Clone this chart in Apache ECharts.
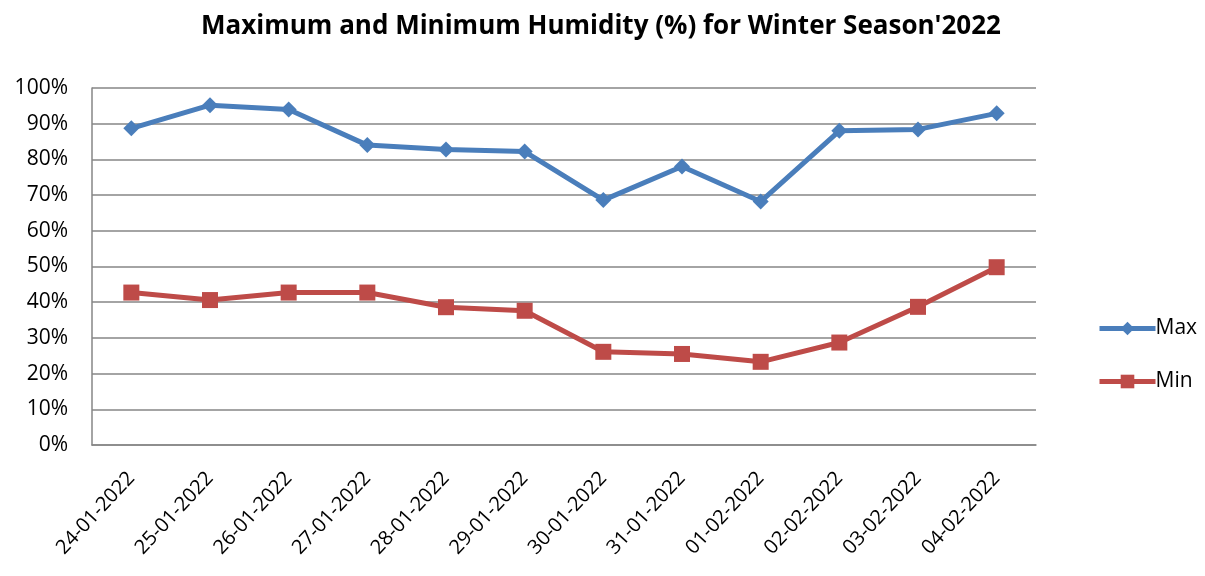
<!DOCTYPE html>
<html>
<head>
<meta charset="utf-8">
<script src="https://cdn.jsdelivr.net/npm/echarts@6/dist/echarts.min.js"></script>
<style>
  html, body { margin: 0; padding: 0; background: #fff; }
  #chart { width: 1205px; height: 576px; }
</style>
</head>
<body>
<div id="chart"></div>
<script>
var dates = ['24-01-2022', '25-01-2022', '26-01-2022', '27-01-2022', '28-01-2022', '29-01-2022',
             '30-01-2022', '31-01-2022', '01-02-2022', '02-02-2022', '03-02-2022', '04-02-2022'];
var maxHumidity = [88.7, 95.2, 94.0, 84.0, 82.8, 82.2, 68.6, 78.0, 68.2, 88.0, 88.4, 92.9];
var minHumidity = [42.7, 40.6, 42.7, 42.7, 38.6, 37.6, 26.1, 25.5, 23.3, 28.7, 38.7, 49.8];

var font = '"Open Sans", "Noto Sans", sans-serif';

var option = {
    animation: false,
    title: {
        text: "Maximum and Minimum Humidity (%) for Winter Season'2022",
        left: 596,
        top: 9,
        textAlign: 'center',
        textStyle: { fontFamily: font, fontSize: 26, fontWeight: 'bold', color: '#000' }
    },
    legend: {
        orient: 'vertical',
        left: 1092,
        top: 313,
        itemGap: 32,
        itemWidth: 56,
        itemHeight: 17,
        lineStyle: { width: 5 },
        textStyle: { fontFamily: font, fontSize: 21, color: '#000', padding: [0, 0, 0, -5] },
        data: ['Max', 'Min']
    },
    grid: { left: 92, right: 169, top: 88, bottom: 131 },
    xAxis: {
        type: 'category',
        data: dates,
        boundaryGap: true,
        axisLine: { lineStyle: { color: '#868686', width: 1.5 } },
        axisTick: { show: false },
        axisLabel: {
            rotate: 47, interval: 0, margin: 30,
            fontFamily: font, fontSize: 20, color: '#000'
        }
    },
    yAxis: {
        type: 'value',
        min: 0, max: 100, interval: 10,
        axisLine: { show: true, lineStyle: { color: '#868686', width: 1.5 } },
        axisTick: { show: false },
        splitLine: { lineStyle: { color: '#868686', width: 1.5 } },
        axisLabel: {
            formatter: '{value}%', margin: 24,
            fontFamily: font, fontSize: 21, color: '#000'
        }
    },
    series: [
        {
            name: 'Max',
            type: 'line',
            data: maxHumidity,
            symbol: 'diamond',
            symbolSize: 16,
            lineStyle: { color: '#4a7ebb', width: 5 },
            itemStyle: { color: '#4a7ebb' }
        },
        {
            name: 'Min',
            type: 'line',
            data: minHumidity,
            symbol: 'rect',
            symbolSize: 16,
            lineStyle: { color: '#be4b48', width: 5 },
            itemStyle: { color: '#be4b48' }
        }
    ]
};

var myChart = echarts.init(document.getElementById('chart'));
myChart.setOption(option);
</script>
</body>
</html>
